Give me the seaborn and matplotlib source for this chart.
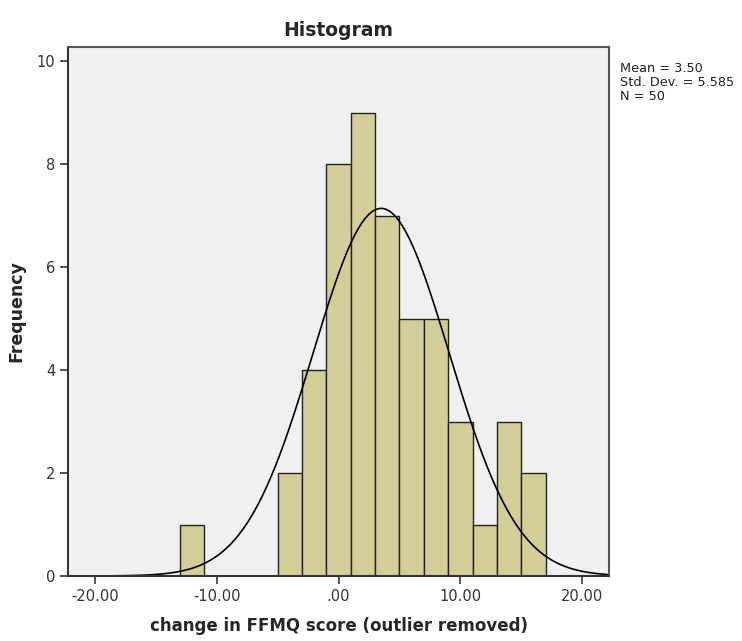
import numpy as np
import pandas as pd
import matplotlib
matplotlib.use("Agg")
import matplotlib.pyplot as plt
import seaborn as sns

# histogram bins (SPSS output), width 2
bin_edges = [-13, -11, -9, -7, -5, -3, -1, 1, 3, 5, 7, 9, 11, 13, 15, 17]
bin_counts = [1, 0, 0, 0, 2, 4, 8, 9, 7, 5, 5, 3, 1, 3, 2]
mean_val = 3.50
sd_val = 5.585
n_val = 50
x_ticks = [-20, -10, 0, 10, 20]
x_ticklabels = ["-20.00", "-10.00", ".00", "10.00", "20.00"]
y_ticks = [0, 2, 4, 6, 8, 10]

centers = [(a + b) / 2 for a, b in zip(bin_edges[:-1], bin_edges[1:])]
df = pd.DataFrame({"score": centers, "count": bin_counts})

sns.set_style("white")
plt.rcParams['font.family'] = ['DejaVu Sans']

fig = plt.figure(figsize=(7.42, 6.41), dpi=100)
ax = fig.add_axes([0.0916, 0.1014, 0.7292, 0.8253])
ax.set_facecolor("#f0f0f0")

sns.histplot(data=df, x="score", weights="count", bins=bin_edges,
             color="#d3ce97", alpha=1, edgecolor="#222222", linewidth=1.0, ax=ax)

# fitted normal curve
xs = np.linspace(-22.2, 22.2, 400)
width = bin_edges[1] - bin_edges[0]
ys = n_val * width / (sd_val * np.sqrt(2 * np.pi)) * np.exp(-0.5 * ((xs - mean_val) / sd_val) ** 2)
sns.lineplot(x=xs, y=ys, color="black", linewidth=1.2, ax=ax)

ax.set_xlim(-22.2, 22.2)
ax.set_ylim(0, 10.28)
ax.set_xticks(x_ticks)
ax.set_xticklabels(x_ticklabels)
ax.set_yticks(y_ticks)
ax.tick_params(axis="both", direction="out", length=6, width=1.2, color="#333333",
               labelsize=10.5, labelcolor="#333333", bottom=True, left=True, pad=3)

for s in ax.spines.values():
    s.set_color("#555555")
    s.set_linewidth(1.5)
ax.spines["left"].set_color("#333333")
ax.spines["bottom"].set_color("#333333")

ax.set_xlabel("change in FFMQ score (outlier removed)", fontsize=12, fontweight="bold", labelpad=10)
ax.set_ylabel("Frequency", fontsize=12.5, fontweight="bold", labelpad=8)
ax.set_title("Histogram", fontsize=13.5, fontweight="bold", pad=8)

fig.text(0.836, 0.904, "Mean = 3.50\nStd. Dev. = 5.585\nN = 50",
         fontsize=9.3, va="top", ha="left", linespacing=1.1, color="#222222")

fig.savefig("out.png", dpi=100, facecolor="white")
